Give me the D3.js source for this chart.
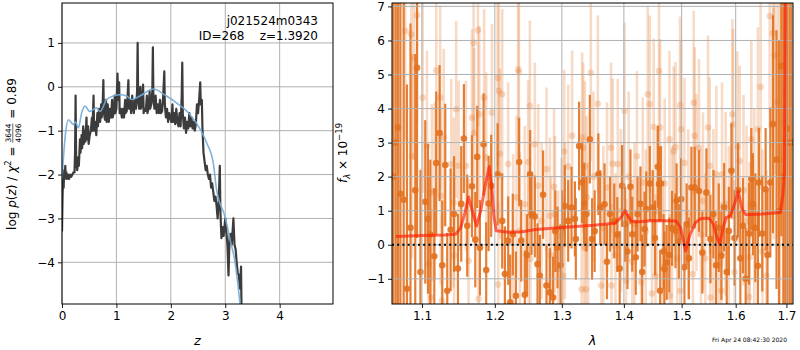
<!DOCTYPE html>
<html>
<head>
<meta charset="utf-8">
<script src="https://cdn.jsdelivr.net/npm/d3@7"></script>
<style>
  body { margin: 0; background: #fff; }
  text { font-family: "DejaVu Sans", sans-serif; }
</style>
</head>
<body>
<svg id="fig" width="800" height="350"></svg>
<script>
// ---- redshift fit (left panel) ----
var zTicks = [0, 1, 2, 3, 4];
var lnpTicks = [-4, -3, -2, -1, 0, 1];

// log p(z), noisy curve
var pzData = [
  [0.00,-3.3],[0.01,-2.5],[0.02,-2.0],[0.03,-2.3],[0.04,-1.9],[0.05,-2.1],[0.06,-1.8],[0.07,-2.05],
  [0.08,-1.95],[0.09,-2.1],[0.11,-2.0],[0.13,-2.1],[0.15,-2.0],[0.17,-2.05],[0.19,-2.0],[0.21,-1.95],
  [0.23,-1.95],[0.24,-1.5],[0.25,-0.2],[0.26,-1.7],[0.28,-1.9],[0.30,-1.6],[0.31,-1.8],[0.33,-1.2],
  [0.34,-1.5],[0.36,-1.1],[0.37,-1.4],[0.39,-0.9],[0.40,-1.3],[0.42,-1.0],[0.43,-1.25],[0.45,-0.7],
  [0.46,-1.2],[0.48,-0.9],[0.49,-1.3],[0.51,-1.1],[0.53,-1.0],[0.55,-0.7],[0.56,-1.0],[0.58,-0.2],
  [0.59,-1.0],[0.61,-0.8],[0.63,-1.1],[0.65,-0.6],[0.66,-0.9],[0.68,-0.5],[0.70,-0.8],[0.72,-0.4],
  [0.73,-0.7],[0.75,-0.3],[0.76,0.15],[0.77,-0.6],[0.79,-0.75],[0.81,-0.3],[0.82,-0.8],[0.84,-0.4],
  [0.86,-0.8],[0.88,-0.5],[0.90,-0.7],[0.92,-0.3],[0.93,-0.7],[0.95,-0.6],[0.97,-0.2],[0.98,-0.6],
  [1.00,-0.5],[1.02,0.3],[1.03,-0.3],[1.05,0.1],[1.06,-0.6],[1.08,-0.5],[1.10,-0.7],[1.12,-0.5],
  [1.14,-0.7],[1.16,-0.3],[1.17,-0.6],[1.19,-0.55],[1.21,-0.1],[1.22,0.15],[1.23,-0.5],[1.25,-0.3],
  [1.27,-0.6],[1.29,-0.2],[1.30,-0.4],[1.32,-0.6],[1.34,-0.3],[1.36,-0.5],[1.38,-0.1],[1.39,1.0],
  [1.40,-0.3],[1.42,-0.5],[1.44,0.0],[1.45,-0.5],[1.47,-0.4],[1.49,0.05],[1.50,-0.6],[1.52,-0.5],
  [1.54,-0.55],[1.56,-0.2],[1.57,-0.6],[1.59,-0.5],[1.61,-0.1],[1.62,-0.5],[1.64,-0.4],[1.66,-0.1],
  [1.67,0.9],[1.68,-0.3],[1.70,-0.5],[1.72,-0.2],[1.74,-0.6],[1.76,-0.4],[1.78,-0.6],[1.80,-0.3],
  [1.82,-0.6],[1.84,-0.55],[1.86,-0.2],[1.88,0.35],[1.89,-0.4],[1.91,-0.7],[1.93,-0.5],[1.95,-0.8],
  [1.97,-0.6],[1.99,-0.7],[2.01,-0.8],[2.03,-0.4],[2.04,-0.8],[2.06,-0.6],[2.08,-0.85],[2.10,-0.5],
  [2.12,-0.8],[2.14,-0.9],[2.16,-0.6],[2.18,-0.9],[2.20,-0.2],[2.21,0.55],[2.22,-0.6],[2.24,-0.95],
  [2.26,-0.7],[2.28,-1.05],[2.30,-0.8],[2.32,-0.95],[2.34,-0.6],[2.36,-0.9],[2.38,-0.7],[2.40,-0.95],
  [2.42,-0.8],[2.44,-1.0],[2.46,-0.85],[2.48,-0.4],[2.50,-0.6],[2.52,-0.3],[2.54,0.1],[2.55,-0.4],
  [2.57,-0.3],[2.58,-0.9],[2.60,-1.5],[2.62,-1.7],[2.64,-1.9],[2.66,-1.8],[2.68,-2.0],[2.70,-2.1],
  [2.72,-2.0],[2.74,-2.3],[2.76,-2.2],[2.78,-2.4],[2.80,-2.6],[2.82,-2.5],[2.84,-2.7],[2.86,-3.0],
  [2.88,-2.6],[2.90,-1.8],[2.91,-2.8],[2.93,-3.45],[2.95,-3.2],[2.97,-3.4],[3.00,-3.0],[3.02,-3.3],
  [3.04,-3.6],[3.06,-4.3],[3.08,-3.4],[3.10,-3.35],[3.12,-3.6],[3.15,-3.0],[3.17,-3.6],[3.19,-3.7],
  [3.21,-4.0],[3.23,-4.25],[3.25,-4.3],[3.27,-4.6],[3.29,-4.1],[3.30,-5.2]
];

// smooth model curve
var pzSmooth = [
  [0.00,-2.1],[0.02,-1.73],[0.07,-1.0],[0.12,-0.75],[0.16,-0.8],[0.21,-0.86],[0.25,-0.8],[0.30,-0.94],
  [0.36,-0.6],[0.42,-0.44],[0.51,-0.56],[0.63,-0.48],[0.70,-0.56],[0.82,-0.29],[0.94,-0.21],[1.07,-0.18],
  [1.19,-0.21],[1.28,-0.29],[1.43,-0.21],[1.68,-0.05],[1.92,-0.21],[2.11,-0.37],[2.35,-0.63],[2.54,-0.97],
  [2.66,-1.28],[2.78,-1.74],[2.84,-2.34],[3.00,-2.98],[3.09,-3.49],[3.18,-4.0],[3.27,-4.93],[3.30,-5.3]
];

// ---- spectrum (right panel) ----
var lamTicks = [1.1, 1.2, 1.3, 1.4, 1.5, 1.6, 1.7];
var fluxTicks = [-1, 0, 1, 2, 3, 4, 5, 6, 7];

// [wavelength (um), flux, error] - main spectrum
var specDark = [
  [1.063,2.0,10],[1.066,3.0,10],[1.0689,3.44,7],[1.072,1.5,8],[1.0762,1.32,6],[1.0804,-1.29,6],
  [1.085,0.5,6],[1.0912,1.6,4],[1.0935,5.2,5],[1.098,-0.8,3],[1.1043,1.26,2.4],[1.1079,0.76,2.2],
  [1.111,0.3,2.2],[1.1163,-0.34,2.0],[1.1189,2.4,2.1],[1.1234,3.28,2.0],[1.127,-0.6,1.9],[1.131,2.34,1.8],
  [1.1337,-1.35,1.7],[1.1383,0.44,1.8],[1.143,0.9,1.7],[1.1483,-0.7,1.6],[1.1528,1.2,1.7],[1.1565,3.12,1.6],
  [1.1611,0.56,1.5],[1.1677,1.72,1.5],[1.1723,0.15,1.4],[1.175,2.58,1.5],[1.1788,-0.09,1.4],[1.184,2.95,1.5],
  [1.1877,-0.74,1.4],[1.1911,1.21,1.4],[1.1948,1.73,1.5],[1.204,2.07,1.5],[1.2106,0.7,1.4],[1.2145,-0.86,1.4],
  [1.2193,0.12,1.3],[1.2222,-1.69,1.4],[1.226,0.3,1.2],[1.2306,-1.5,1.3],[1.2354,2.43,1.3],[1.2384,0.12,1.2],
  [1.2438,-1.47,1.3],[1.247,-0.3,1.2],[1.2517,2.07,1.3],[1.2538,0.9,1.2],[1.2587,0.83,1.2],[1.2628,-0.57,1.2],
  [1.2663,-0.91,1.2],[1.2712,1.47,1.3],[1.2764,-1.2,1.2],[1.2815,-1.4,1.3],[1.2865,-1.55,1.2],[1.290,0.4,1.2],
  [1.2933,-0.08,1.2],[1.298,-0.6,1.2],[1.3005,0.5,1.1],[1.3046,1.14,1.2],[1.3099,0.7,1.2],[1.3151,1.09,1.2],
  [1.3204,0.76,1.1],[1.3219,0.17,1.2],[1.3271,2.9,1.3],[1.3319,1.83,1.2],[1.3351,1.21,1.2],[1.3389,0.9,1.1],
  [1.3442,3.1,1.3],[1.3478,0.17,1.2],[1.352,0.4,1.2],[1.358,2.07,1.2],[1.361,1.09,1.1],[1.368,1.19,1.2],
  [1.372,-0.5,1.1],[1.377,0.9,1.1],[1.384,0.7,1.1],[1.389,0.3,1.1],[1.393,-0.7,1.1],[1.397,1.73,1.2],
  [1.402,0.6,1.1],[1.406,-0.2,1.1],[1.411,1.7,1.1],[1.414,0.31,1.1],[1.420,-0.37,1.1],[1.423,0.9,1.1],
  [1.428,1.2,1.1],[1.431,-0.8,1.1],[1.435,0.46,1.1],[1.438,1.05,1.1],[1.444,1.8,1.1],[1.449,1.09,1.1],
  [1.453,0.2,1.1],[1.458,2.29,1.2],[1.460,1.78,1.1],[1.462,-1.35,1.2],[1.4635,1.8,1.1],[1.468,-0.2,1.1],
  [1.4695,-0.71,1.1],[1.4735,-0.52,1.1],[1.478,-0.3,1.1],[1.483,0.48,1.1],[1.489,0.41,1.1],[1.491,1.29,1.1],
  [1.495,0.1,1.1],[1.499,1.34,1.2],[1.505,-0.66,1.2],[1.509,0.6,1.2],[1.513,-0.4,1.2],[1.5176,1.68,1.2],
  [1.5236,1.68,1.2],[1.5314,1.58,1.2],[1.5376,-0.23,1.2],[1.545,1.53,1.3],[1.5524,0.17,1.3],[1.558,0.9,1.3],
  [1.563,-0.6,1.3],[1.568,0.5,1.3],[1.5729,-0.32,1.3],[1.578,1.1,1.3],[1.583,-0.8,1.3],[1.587,0.4,1.3],
  [1.5919,2.17,1.4],[1.598,0.2,1.4],[1.6044,1.61,1.4],[1.609,-0.4,1.4],[1.614,0.56,1.4],[1.6192,-1.0,1.5],
  [1.6257,0.33,1.5],[1.6302,1.93,1.5],[1.6333,1.19,1.5],[1.638,0.5,1.6],[1.643,-0.62,1.6],[1.645,1.83,1.6],
  [1.6517,0.33,1.7],[1.6583,1.63,1.8],[1.662,-0.3,1.9],[1.6676,1.83,2.2],[1.6728,3.54,3.2],[1.680,2.5,3.8],
  [1.685,1.0,5],[1.6897,5.25,5],[1.694,2.0,8],[1.698,3.0,10],[1.701,3.41,10],[1.706,3.0,12],[1.710,3.0,12]
];

// second (faint) spectrum
var specLight = [
  [1.0783,6.28,3.2],[1.086,6.18,3.2],[1.087,2.6,3.0],[1.0892,5.49,3.0],[1.0935,6.74,3.2],[1.1009,4.32,2.8],
  [1.1066,2.9,2.8],[1.1088,-0.57,2.6],[1.112,-1.55,2.6],[1.1131,1.53,2.6],[1.1168,1.58,2.6],[1.1189,5.12,2.8],
  [1.1242,4.32,2.7],[1.125,1.44,2.6],[1.1266,-1.64,2.5],[1.1289,3.15,2.6],[1.1391,2.37,2.5],[1.1424,1.24,2.5],
  [1.143,-0.32,2.4],[1.1458,3.98,2.6],[1.1492,2.32,2.5],[1.1593,2.32,2.5],[1.163,-0.47,2.4],[1.1677,3.73,2.6],
  [1.170,5.93,2.7],[1.1708,3.28,2.5],[1.1761,6.3,2.8],[1.177,-1.59,2.4],[1.1779,3.83,2.6],[1.1848,4.32,2.6],
  [1.1877,2.56,2.5],[1.1958,3.88,2.6],[1.2040,4.9,2.6],[1.2048,-1.17,2.4],[1.2058,4.52,2.6],[1.2073,2.67,2.5],
  [1.2106,4.42,2.5],[1.2193,2.37,2.4],[1.2266,0.36,2.3],[1.2315,1.39,2.4],[1.234,5.15,2.6],[1.235,5.07,2.6],
  [1.2364,0.41,2.3],[1.2438,1.19,2.3],[1.2487,2.43,2.4],[1.2495,-0.13,2.3],[1.2513,4.08,2.5],[1.252,-0.42,2.3],
  [1.2587,2.95,2.4],[1.2638,1.73,2.4],[1.2689,0.7,2.3],[1.2764,2.22,2.4],[1.2815,0.85,2.3],[1.283,-0.3,2.3],
  [1.288,1.7,2.3],[1.2892,0.9,2.3],[1.2944,-0.71,2.3],[1.2996,0.26,2.3],[1.302,-0.91,2.3],[1.3036,2.74,2.4],
  [1.3046,0.7,2.3],[1.3099,2.3,2.4],[1.3161,3.2,2.5],[1.3310,-1.31,2.4],[1.3319,3.15,2.5],[1.3335,2.85,2.5],
  [1.3351,-0.08,2.4],[1.3362,2.3,2.5],[1.338,-1.31,2.4],[1.3389,1.39,2.4],[1.3415,0.02,2.4],[1.3458,5.05,2.6],
  [1.350,2.0,2.5],[1.3571,4.14,2.6],[1.3625,-1.2,2.4],[1.366,0.5,2.4],[1.3721,1.68,2.5],[1.3787,2.85,2.5],
  [1.3795,-1.2,2.4],[1.3815,2.38,2.5],[1.386,-0.3,2.4],[1.3899,2.37,2.5],[1.395,1.0,2.4],[1.401,3.93,2.6],
  [1.4037,-1.06,2.4],[1.408,2.0,2.5],[1.414,-0.5,2.4],[1.4178,0.61,2.4],[1.422,2.6,2.5],[1.429,-1.1,2.4],
  [1.4319,1.83,2.5],[1.437,0.4,2.4],[1.4405,4.42,2.6],[1.444,4.13,2.6],[1.4478,-1.43,2.4],[1.4508,3.46,2.6],
  [1.4538,-0.91,2.4],[1.456,1.0,2.4],[1.460,5.1,2.7],[1.4618,3.44,2.6],[1.4665,-0.66,2.4],[1.470,1.8,2.5],
  [1.4783,3.1,2.6],[1.479,-1.5,2.4],[1.483,0.5,2.4],[1.4858,2.74,2.5],[1.489,2.87,2.5],[1.492,-0.4,2.4],
  [1.4971,4.1,2.6],[1.4975,-1.35,2.4],[1.499,3.39,2.6],[1.505,2.4,2.5],[1.512,0.9,2.5],[1.5204,-0.86,2.5],
  [1.5218,4.17,2.7],[1.5236,3.2,2.6],[1.5267,1.83,2.6],[1.5314,2.85,2.6],[1.535,0.3,2.5],[1.5388,1.29,2.6],
  [1.543,-0.4,2.5],[1.548,3.44,2.7],[1.5511,2.32,2.6],[1.5524,-1.55,2.5],[1.558,0.8,2.6],[1.5636,2.07,2.6],
  [1.568,-0.6,2.6],[1.5729,-1.35,2.6],[1.5741,2.07,2.7],[1.581,1.2,2.7],[1.587,0.2,2.7],[1.5938,3.83,2.8],
  [1.595,3.54,2.8],[1.598,-0.8,2.7],[1.6032,2.88,2.8],[1.6077,2.46,2.8],[1.615,1.6,2.8],[1.621,0.7,2.8],
  [1.6257,-1.53,2.8],[1.627,-0.37,2.8],[1.6302,3.1,2.9],[1.636,1.1,2.9],[1.6431,3.39,3.0],[1.6484,4.63,3.0],
  [1.652,-0.2,3.0],[1.6597,-0.91,3.1],[1.6663,6.72,3.3],[1.6728,6.21,3.4],[1.6741,3.56,3.4],[1.6762,5.56,3.5],
  [1.682,4.2,4],[1.687,2.5,5],[1.694,3.6,6]
];

// best-fit template
var modelLine = [
  [1.066,0.24],[1.100,0.27],[1.130,0.29],[1.145,0.31],[1.152,0.5],[1.158,0.95],[1.163,1.4],[1.168,1.0],
  [1.174,0.55],[1.180,1.0],[1.186,1.7],[1.192,2.3],[1.196,1.6],[1.199,0.8],[1.202,0.41],[1.22,0.37],
  [1.24,0.38],[1.26,0.45],[1.30,0.51],[1.35,0.57],[1.385,0.63],[1.395,0.8],[1.402,1.0],[1.412,0.7],
  [1.42,0.67],[1.45,0.71],[1.49,0.7],[1.498,0.5],[1.507,-0.18],[1.515,0.3],[1.525,0.65],[1.535,0.77],
  [1.55,0.78],[1.558,0.6],[1.565,0.2],[1.570,0.02],[1.576,0.5],[1.582,0.8],[1.590,0.85],[1.600,1.3],
  [1.605,1.58],[1.612,1.05],[1.620,0.88],[1.65,0.9],[1.688,0.95],[1.693,1.5],[1.696,2.1],[1.698,7.5],[1.700,9]
];

var svg = d3.select('#fig');
var fontSize = 12;
var orange = '#e2711f';
var gridColor = '#b0b0b0';

var L = {x0: 62, x1: 333, y0: 3, y1: 304};
var R = {x0: 392, x1: 793, y0: 3, y1: 304};

var xZ = d3.scaleLinear().domain([0, 4.98]).range([L.x0, L.x1]);
var yP = d3.scaleLinear().domain([-4.95, 1.91]).range([L.y1, L.y0]);
var xLam = d3.scaleLog().domain([1.0613, 1.7134]).range([R.x0, R.x1]);
var yF = d3.scaleLinear().domain([-1.74, 7.1]).range([R.y1, R.y0]);

var defs = svg.append('defs');
defs.append('clipPath').attr('id', 'clipL').append('rect')
  .attr('x', L.x0).attr('y', L.y0).attr('width', L.x1 - L.x0).attr('height', L.y1 - L.y0);
defs.append('clipPath').attr('id', 'clipR').append('rect')
  .attr('x', R.x0).attr('y', R.y0).attr('width', R.x1 - R.x0).attr('height', R.y1 - R.y0);

function drawGrid(g, xs, ys, xt, yt, box) {
  g.selectAll('line.gx').data(xt).enter().append('line')
    .attr('x1', function(d) { return xs(d); }).attr('x2', function(d) { return xs(d); })
    .attr('y1', box.y0).attr('y2', box.y1)
    .attr('stroke', gridColor).attr('stroke-width', 1);
  g.selectAll('line.gy').data(yt).enter().append('line')
    .attr('y1', function(d) { return ys(d); }).attr('y2', function(d) { return ys(d); })
    .attr('x1', box.x0).attr('x2', box.x1)
    .attr('stroke', gridColor).attr('stroke-width', 1);
}

function styleAxis(g) {
  g.attr('font-size', fontSize).attr('font-family', '"DejaVu Sans", sans-serif');
  g.select('.domain').remove();
  g.selectAll('.tick line').attr('stroke', '#000').attr('stroke-width', 0.9);
  g.selectAll('.tick text').attr('fill', '#000');
}

function drawAxes(xs, ys, xt, yt, box, xfmt, yfmt) {
  svg.append('g').attr('transform', 'translate(0,' + box.y1 + ')')
    .call(d3.axisBottom(xs).tickValues(xt).tickSize(4).tickPadding(3).tickFormat(xfmt))
    .call(styleAxis);
  svg.append('g').attr('transform', 'translate(' + box.x0 + ',0)')
    .call(d3.axisLeft(ys).tickValues(yt).tickSize(4).tickPadding(3).tickFormat(yfmt))
    .call(styleAxis);
  svg.append('rect').attr('x', box.x0).attr('y', box.y0)
    .attr('width', box.x1 - box.x0).attr('height', box.y1 - box.y0)
    .attr('fill', 'none').attr('stroke', '#000').attr('stroke-width', 1);
}

// ===== left panel =====
drawGrid(svg.append('g'), xZ, yP, zTicks, lnpTicks, L);
var gl = svg.append('g').attr('clip-path', 'url(#clipL)');
var pzLine = d3.line().x(function(d) { return xZ(d[0]); }).y(function(d) { return yP(d[1]); });
gl.append('path').datum(pzData).attr('d', pzLine)
  .attr('fill', 'none').attr('stroke', '#3c3c3c').attr('stroke-width', 2.2).attr('stroke-linejoin', 'round');
gl.append('path').datum(pzSmooth).attr('d', pzLine.curve(d3.curveMonotoneX))
  .attr('fill', 'none').attr('stroke', '#74abd6').attr('stroke-width', 1.6).attr('opacity', 0.9);
drawAxes(xZ, yP, zTicks, lnpTicks, L, d3.format('d'), d3.format('d'));

svg.append('text').attr('x', 318).attr('y', 25).attr('text-anchor', 'end')
  .attr('font-size', fontSize).text('j021524m0343');
svg.append('text').attr('x', 318).attr('y', 40).attr('text-anchor', 'end')
  .attr('font-size', fontSize).style('white-space', 'pre').text('ID=268    z=1.3920');

// ===== right panel =====
var gr = svg.append('g').attr('clip-path', 'url(#clipR)');
function drawSpec(data, alpha, width) {
  var g = gr.append('g');
  g.selectAll('line').data(data).enter().append('line')
    .attr('x1', function(d) { return xLam(d[0]); }).attr('x2', function(d) { return xLam(d[0]); })
    .attr('y1', function(d) { return yF(d[1] - d[2]); }).attr('y2', function(d) { return yF(d[1] + d[2]); })
    .attr('stroke', orange).attr('stroke-width', width).attr('stroke-opacity', alpha);
  g.selectAll('circle').data(data).enter().append('circle')
    .attr('cx', function(d) { return xLam(d[0]); }).attr('cy', function(d) { return yF(d[1]); })
    .attr('r', 3.3).attr('fill', orange).attr('fill-opacity', alpha);
}
drawSpec(specLight, 0.25, 2.6);
drawSpec(specDark, 0.9, 2.2);
drawGrid(gr.append('g'), xLam, yF, lamTicks, fluxTicks, R);

gr.append('path').datum(modelLine)
  .attr('d', d3.line().x(function(d) { return xLam(d[0]); }).y(function(d) { return yF(d[1]); }))
  .attr('fill', 'none').attr('stroke', '#ff1a00').attr('stroke-width', 3).attr('opacity', 0.65)
  .attr('stroke-linejoin', 'round');
gr.append('line').attr('x1', R.x0).attr('x2', R.x1).attr('y1', yF(0)).attr('y2', yF(0))
  .attr('stroke', '#000').attr('stroke-width', 1.8).attr('stroke-dasharray', '2,3.2');

drawAxes(xLam, yF, lamTicks, fluxTicks, R, d3.format('.1f'), d3.format('d'));

// ===== axis labels =====
svg.append('text').attr('x', (L.x0 + L.x1) / 2).attr('y', 345).attr('text-anchor', 'middle')
  .attr('font-size', fontSize + 1).attr('font-style', 'italic').text('z');
svg.append('text').attr('x', (R.x0 + R.x1) / 2).attr('y', 345).attr('text-anchor', 'middle')
  .attr('font-size', fontSize + 1).attr('font-style', 'italic').text('λ');

svg.append('text').attr('x', 787).attr('y', 342).attr('text-anchor', 'end')
  .attr('font-size', 6).text('Fri Apr 24 08:42:30 2020');

// rotated label built from pieces laid along local x
function rotatedLabel(cx, cy, pieces) {
  var g = svg.append('g').attr('transform', 'translate(' + cx + ',' + cy + ') rotate(-90)');
  var pos = 0;
  var items = [];
  pieces.forEach(function(p) {
    if (p.frac) {
      var t1 = g.append('text').attr('font-size', p.size).attr('y', -5).text(p.frac[0]);
      var t2 = g.append('text').attr('font-size', p.size).attr('y', 5).text(p.frac[1]);
      var w = Math.max(t1.node().getComputedTextLength(), t2.node().getComputedTextLength());
      var ln = g.append('line').attr('y1', -3.2).attr('y2', -3.2).attr('stroke', '#000').attr('stroke-width', 0.6);
      items.push({els: [t1, t2], line: ln, x: pos, w: w});
      pos += w + 1;
    } else {
      var t = g.append('text').attr('font-size', p.size || fontSize)
        .attr('y', p.dy || 0).style('white-space', 'pre').text(p.t);
      if (p.italic) t.attr('font-style', 'italic');
      var w2 = t.node().getComputedTextLength();
      items.push({els: [t], x: pos, w: w2});
      pos += w2;
    }
  });
  var off = -pos / 2;
  items.forEach(function(it) {
    it.els.forEach(function(e) {
      var ew = e.node().getComputedTextLength();
      e.attr('x', off + it.x + (it.w - ew) / 2);
    });
    if (it.line) it.line.attr('x1', off + it.x).attr('x2', off + it.x + it.w);
  });
}

rotatedLabel(16, 154, [
  {t: 'log '}, {t: 'p', italic: true}, {t: '('}, {t: 'z', italic: true}, {t: ') / '},
  {t: 'χ', italic: true}, {t: '2', size: 8.5, dy: -5}, {t: ' = '},
  {frac: ['3644', '4096'], size: 7.5}, {t: ' = 0.89'}
]);

rotatedLabel(347, 153, [
  {t: 'f', italic: true}, {t: 'λ', italic: true, size: 8.5, dy: 3}, {t: ' × 10'},
  {t: '−19', size: 8.5, dy: -5}
]);
</script>
</body>
</html>
